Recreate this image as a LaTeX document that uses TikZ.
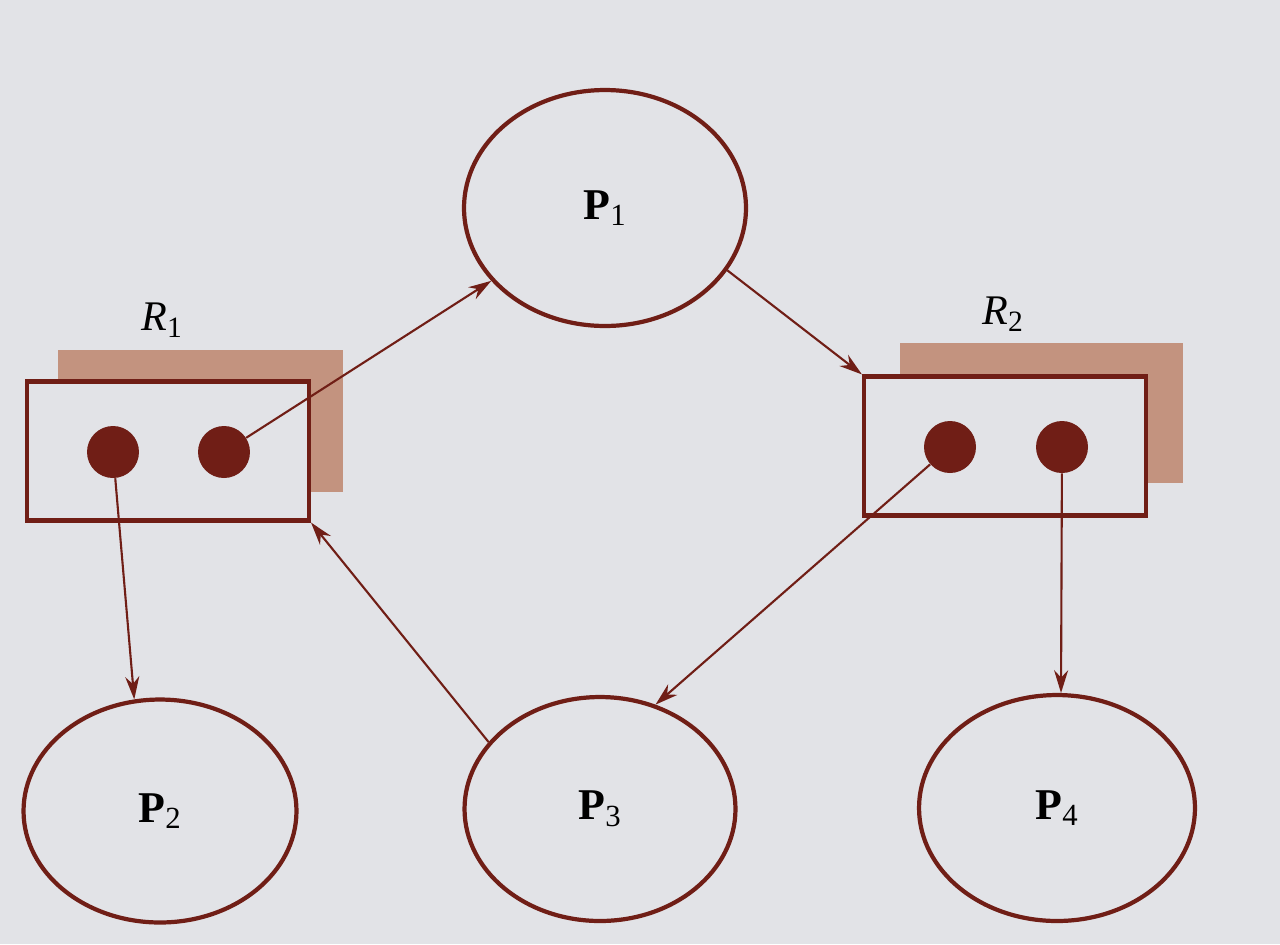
\documentclass[tikz,border=0pt]{standalone}
\usepackage{amsmath,amssymb}
\usepackage{fontspec}
\setmainfont{Liberation Serif}
\usepackage{tikz}
\usetikzlibrary{positioning,arrows.meta,shapes.geometric}
\definecolor{inkred}{RGB}{112,30,22}
\definecolor{paper}{RGB}{226,227,231}
\definecolor{smear}{RGB}{188,128,102}
\tikzset{
  proc/.style={ellipse,draw=inkred,line width=2.4pt,inner sep=0pt,font=\fontsize{25}{28}\selectfont},
  res/.style={rectangle,draw=inkred,fill=paper,line width=2.4pt,minimum width=5.64cm,minimum height=2.78cm,inner sep=0pt},
  tok/.style={circle,fill=inkred,minimum size=1.04cm,inner sep=0pt},
  req/.style={draw=inkred,line width=1.2pt,-{Stealth[length=13pt,width=8pt]}},
  rlab/.style={font=\fontsize{24}{28}\selectfont},
  smudge/.style={fill=smear,opacity=0.8}
}
\begin{document}
\begin{tikzpicture}[x=0.02cm,y=-0.02cm]
        \fill[paper] (0,0) rectangle (1280,944);
        \useasboundingbox (0,0) rectangle (1280,944);
        \fill[smudge] (58,350) rectangle (343,492); \fill[smudge] (900,343) rectangle (1183,483);
        \node[res] (r1) at (168,451) {}; \node[res] (r2) at (1005,446) {};
        \node[rlab] (l1) at (162,320) {$\textit{R}_{\text{1}}$}; \node[rlab] (l2) at (1003,314) {$\textit{R}_{\text{2}}$};
        \node[tok] (r1a) at (113,452) {}; \node[tok] (r1b) at (224,452) {};
        \node[tok] (r2a) at (950,447) {}; \node[tok] (r2b) at (1062,447) {};
        \node[proc,minimum width=5.64cm,minimum height=4.72cm] (p1) at (605,208) {$\textbf{P}_{\text{1}}$};
        \node[proc,minimum width=5.46cm,minimum height=4.46cm] (p2) at (160,811) {$\textbf{P}_{\text{2}}$};
        \node[proc,minimum width=5.42cm,minimum height=4.48cm] (p3) at (600,809) {$\textbf{P}_{\text{3}}$};
        \node[proc,minimum width=5.52cm,minimum height=4.52cm] (p4) at (1057,808) {$\textbf{P}_{\text{4}}$};
        \draw[req] (r1b) -- (p1); \draw[req] (p1.-27) -- (r2.north west);
        \draw[req] (r1a) -- (p2.103); \draw[req] (p3.149) -- (r1.south east);
        \draw[req] (r2a) -- (p3.62); \draw[req] (r2b) -- (p4.88);
      \end{tikzpicture}
\end{document}
